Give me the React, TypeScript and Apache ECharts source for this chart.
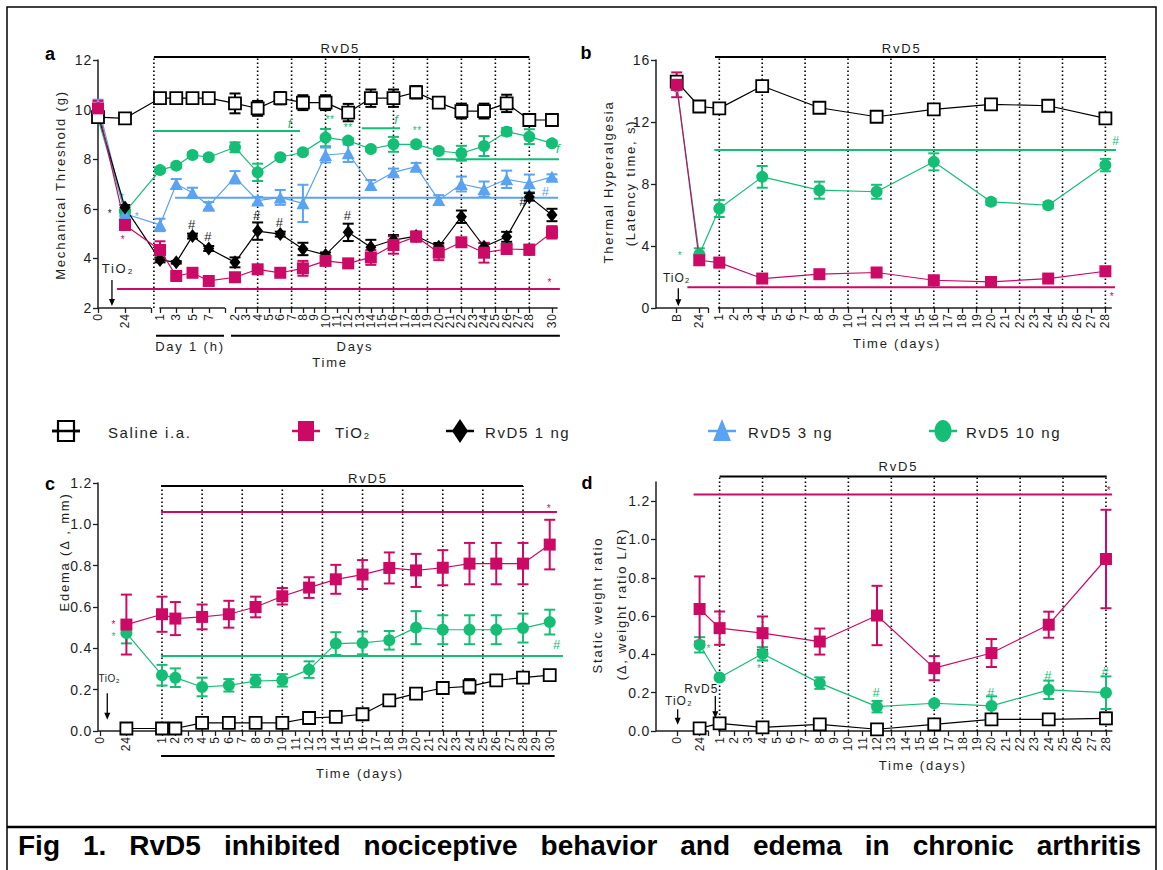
import React, { useEffect, useRef } from "react";
import * as echarts from "echarts";

const INK = "#1e1e1e";
const MAG = "#CC0A66";
const GRN = "#14BE75";
const BLU = "#5AA2F2";
const BLK = "#000000";
const FONT = "'Liberation Sans', Arial, Helvetica, sans-serif";

// ================= DATA =================
// Panel a — mechanical threshold (g); times: p = hours before/after TiO2, h = hours of day 1, d = days
const A_TIME = ["p:0", "p:24", "h:1", "h:3", "h:5", "h:7", "d:2", "d:4", "d:6", "d:8", "d:10", "d:12", "d:14", "d:16", "d:18", "d:20", "d:22", "d:24", "d:26", "d:28", "d:30"];
const A_SALINE = [9.7, 9.65, 10.46, 10.46, 10.46, 10.46, 10.25, 10.05, 10.46, 10.28, 10.28, 9.88, 10.46, 10.46, 10.7, 10.28, 9.94, 9.94, 10.25, 9.58, 9.58];
const A_SALINE_SEM = [0.2, 0.15, 0.1, 0.1, 0.1, 0.1, 0.4, 0.3, 0.25, 0.3, 0.3, 0.35, 0.35, 0.35, 0.25, 0.15, 0.3, 0.3, 0.35, 0.1, 0.1];
const A_TIO2 = [10.05, 5.35, 4.34, 3.29, 3.42, 3.09, 3.24, 3.56, 3.42, 3.6, 3.9, 3.8, 4.04, 4.54, 4.88, 4.23, 4.65, 4.23, 4.38, 4.35, 5.05];
const A_TIO2_SEM = [0.3, 0.2, 0.35, 0.1, 0.1, 0.1, 0.1, 0.1, 0.1, 0.3, 0.15, 0.15, 0.3, 0.35, 0.2, 0.3, 0.15, 0.4, 0.15, 0.2, 0.25];
const A_RV1 = [9.8, 6.05, 3.94, 3.84, 4.9, 4.4, 3.84, 5.1, 4.98, 4.38, 4.14, 5.05, 4.45, 4.74, 4.9, 4.47, 5.68, 4.47, 4.87, 6.48, 5.75];
const A_RV1_SEM = [0.1, 0.1, 0.1, 0.05, 0.1, 0.1, 0.2, 0.35, 0.1, 0.25, 0.1, 0.35, 0.3, 0.2, 0.15, 0.15, 0.25, 0.15, 0.2, 0.15, 0.25];
const A_RV3 = [10.2, 5.8, 5.35, 7.0, 6.65, 6.12, 7.27, 6.33, 6.46, 6.22, 8.17, 8.24, 6.96, 7.47, 7.7, 6.35, 7.0, 6.8, 7.19, 7.03, 7.29];
const A_RV3_SEM = [0.2, 0.1, 0.25, 0.2, 0.2, 0.15, 0.25, 0.15, 0.3, 0.75, 0.3, 0.35, 0.2, 0.15, 0.15, 0.2, 0.3, 0.3, 0.35, 0.35, 0.1];
const A_RV10 = [9.65, 5.87, 7.56, 7.74, 8.17, 8.08, 8.48, 7.47, 8.08, 8.28, 8.87, 8.75, 8.41, 8.6, 8.6, 8.33, 8.24, 8.53, 9.11, 8.91, 8.64];
const A_RV10_SEM = [0.15, 0.15, 0.1, 0.1, 0.1, 0.1, 0.2, 0.35, 0.1, 0.1, 0.35, 0.1, 0.1, 0.3, 0.1, 0.1, 0.3, 0.4, 0.15, 0.3, 0.1];
const A_PRE_TICKS = ["0", "24"];
const A_HOUR_TICKS = ["1", "3", "5", "7"];
const A_DAY_TICKS = ["2", "3", "4", "5", "6", "7", "8", "9", "10", "11", "12", "13", "14", "15", "16", "17", "18", "19", "20", "21", "22", "23", "24", "25", "26", "27", "28", "29", "30"];
const A_Y_TICKS = [2, 4, 6, 8, 10, 12];

// Panel b — thermal hyperalgesia (latency, s)
const B_TIME = ["p:0", "p:24", "d:1", "d:4", "d:8", "d:12", "d:16", "d:20", "d:24", "d:28"];
const B_SALINE = [14.6, 13.0, 12.88, 14.32, 12.92, 12.34, 12.82, 13.14, 13.05, 12.23];
const B_SALINE_SEM = [0.3, 0.2, 0.2, 0.2, 0.2, 0.2, 0.2, 0.2, 0.2, 0.2];
const B_TIO2 = [14.4, 3.08, 2.93, 1.9, 2.18, 2.29, 1.79, 1.68, 1.9, 2.37];
const B_TIO2_SEM = [0.8, 0.2, 0.3, 0.2, 0.2, 0.2, 0.2, 0.2, 0.2, 0.2];
const B_RV10 = [14.3, 3.45, 6.42, 8.46, 7.6, 7.5, 9.43, 6.85, 6.63, 9.22];
const B_RV10_SEM = [0.2, 0.4, 0.55, 0.7, 0.55, 0.45, 0.55, 0.2, 0.2, 0.4];
const B_PRE_TICKS = ["B", "24"];
const B_DAY_TICKS = ["1", "2", "3", "4", "5", "6", "7", "8", "9", "10", "11", "12", "13", "14", "15", "16", "17", "18", "19", "20", "21", "22", "23", "24", "25", "26", "27", "28"];
const B_Y_TICKS = [0, 4, 8, 12, 16];

// Panel c — edema (Δ, mm)
const C_TIME = ["p:24", "d:1", "d:2", "d:4", "d:6", "d:8", "d:10", "d:12", "d:14", "d:16", "d:18", "d:20", "d:22", "d:24", "d:26", "d:28", "d:30"];
const C_SALINE = [0.012, 0.012, 0.012, 0.039, 0.039, 0.039, 0.039, 0.063, 0.068, 0.081, 0.148, 0.181, 0.208, 0.216, 0.245, 0.258, 0.27];
const C_SALINE_SEM = [0.005, 0.005, 0.005, 0.005, 0.005, 0.005, 0.005, 0.005, 0.005, 0.008, 0.01, 0.015, 0.025, 0.035, 0.025, 0.02, 0.025];
const C_TIO2 = [0.515, 0.565, 0.544, 0.552, 0.565, 0.6, 0.652, 0.694, 0.734, 0.757, 0.789, 0.777, 0.79, 0.81, 0.81, 0.81, 0.902];
const C_TIO2_SEM = [0.145, 0.085, 0.08, 0.06, 0.065, 0.05, 0.04, 0.05, 0.07, 0.07, 0.075, 0.08, 0.085, 0.1, 0.1, 0.1, 0.12];
const C_RV10 = [0.474, 0.27, 0.258, 0.213, 0.221, 0.242, 0.245, 0.297, 0.423, 0.426, 0.439, 0.5, 0.49, 0.49, 0.49, 0.498, 0.527];
const C_RV10_SEM = [0.05, 0.05, 0.045, 0.045, 0.03, 0.03, 0.03, 0.04, 0.055, 0.055, 0.045, 0.08, 0.07, 0.07, 0.07, 0.07, 0.06];
const C_PRE_TICKS = ["0", "24"];
const C_DAY_TICKS = ["1", "2", "3", "4", "5", "6", "7", "8", "9", "10", "11", "12", "13", "14", "15", "16", "17", "18", "19", "20", "21", "22", "23", "24", "25", "26", "27", "28", "29", "30"];
const C_Y_TICKS = [0, 0.2, 0.4, 0.6, 0.8, 1.0, 1.2];

// Panel d — static weight ratio (Δ, L/R)
const D_TIME = ["p:24", "d:1", "d:4", "d:8", "d:12", "d:16", "d:20", "d:24", "d:28"];
const D_SALINE = [0.014, 0.04, 0.019, 0.035, 0.009, 0.035, 0.061, 0.061, 0.066];
const D_SALINE_SEM = [0.005, 0.02, 0.01, 0.005, 0.005, 0.005, 0.025, 0.01, 0.03];
const D_TIO2 = [0.637, 0.537, 0.511, 0.467, 0.603, 0.328, 0.407, 0.555, 0.898];
const D_TIO2_SEM = [0.17, 0.087, 0.087, 0.068, 0.155, 0.063, 0.073, 0.068, 0.257];
const D_RV10 = [0.45, 0.279, 0.403, 0.25, 0.127, 0.145, 0.131, 0.215, 0.2];
const D_RV10_SEM = [0.04, 0.01, 0.035, 0.03, 0.03, 0.01, 0.05, 0.048, 0.085];
const D_PRE_TICKS = ["0", "24"];
const D_DAY_TICKS = ["1", "2", "3", "4", "5", "6", "7", "8", "9", "10", "11", "12", "13", "14", "15", "16", "17", "18", "19", "20", "21", "22", "23", "24", "25", "26", "27", "28"];
const D_Y_TICKS = [0, 0.2, 0.4, 0.6, 0.8, 1.0, 1.2];

const PRE_HOURS = [0, 24];
const RVD5_DAYS = [1, 4, 7, 10, 13, 16, 19, 22, 25, 28];

const SERIES_NAMES = ["Saline i.a.", "TiO₂", "RvD5 1 ng", "RvD5 3 ng", "RvD5 10 ng"];
const CAPTION = "Fig 1. RvD5 inhibited nociceptive behavior and edema in chronic arthritis";

// ================= LAYOUT =================
const LAY_A = { left: 98, top: 60, width: 470, height: 248, pre0: 0, pre24: 27, h1: 62, hStep: 8.125, d0: 2, dPos: 137, dStep: 11.32 };
const LAY_B = { left: 656, top: 60, width: 465, height: 248, pre0: 20.7, pre24: 43.3, h1: 0, hStep: 0, d0: 1, dPos: 63.3, dStep: 14.3 };
const LAY_C = { left: 98, top: 483, width: 470, height: 248, pre0: 2, pre24: 28.4, h1: 0, hStep: 0, d0: 1, dPos: 64, dStep: 13.37 };
const LAY_D = { left: 656, top: 482, width: 465, height: 249, pre0: 21, pre24: 43.6, h1: 0, hStep: 0, d0: 1, dPos: 63.6, dStep: 14.31 };

const STYLE: Record<string, any> = {
  "Saline i.a.": { color: BLK, symbol: "rect", open: true },
  "TiO₂": { color: MAG, symbol: "rect" },
  "RvD5 1 ng": { color: BLK, symbol: "diamond" },
  "RvD5 3 ng": { color: BLU, symbol: "triangle" },
  "RvD5 10 ng": { color: GRN, symbol: "circle" },
};
const SYM_SIZE: Record<string, any> = {
  "Saline i.a.": 12,
  "TiO₂": 12,
  "RvD5 1 ng": [11, 14],
  "RvD5 3 ng": [13, 12],
  "RvD5 10 ng": 12,
};

function xu(L: any, key: string): number {
  const i = key.indexOf(":");
  const s = key.slice(0, i);
  const n = parseFloat(key.slice(i + 1));
  if (s === "p") return L.pre0 + (n * (L.pre24 - L.pre0)) / 24;
  if (s === "h") return L.h1 + (n - 1) * L.hStep;
  return L.dPos + (n - L.d0) * L.dStep;
}

// decoration helpers (annotation layout)
const hl = (x1: string, x2: string, y: number, color: string, w = 2, dy = 0) => ({ k: "h", x1, x2, y, color, w, dy });
const vd = (x: string, y1: number, y2: number, dy2 = 0) => ({ k: "v", x, y1, y2, dy2 });
const tx = (x: string, y: number, text: string, color: string, size: number, extra: any = {}) => ({ k: "t", x, y, text, color, size, dy: 0, ...extra });
const ar = (x: string, y1: number, y2: number) => ({ k: "a", x, y1, y2 });

const A_DECO = [
  hl("p:0", "p:47.1", 2, INK, 1.5),
  hl("h:0.92", "h:9", 2, INK, 1.5),
  hl("d:2", "d:30.5", 2, INK, 1.5),
  ...["h:0.25", ...RVD5_DAYS.slice(1).map((d) => "d:" + d)].map((x) => vd(x, 2, 12, -3)),
  hl("h:0.25", "d:28", 12, BLK, 2, -3),
  tx("d:11.3", 12, "RvD5", INK, 13, { dy: -12 }),
  hl("h:0.25", "d:7.74", 9.14, GRN, 2),
  tx("d:6.9", 9.45, "f", GRN, 13, { italic: true }),
  tx("d:10.4", 9.62, "**", GRN, 10),
  tx("d:12", 9.29, "**", GRN, 10),
  hl("d:13.22", "d:16.58", 9.25, GRN, 2),
  tx("d:16.3", 9.62, "f", GRN, 13, { italic: true }),
  tx("d:18.1", 9.15, "**", GRN, 10),
  hl("d:19.79", "d:30.62", 8.0, GRN, 2),
  tx("d:30.6", 8.45, "f", GRN, 13, { italic: true }),
  hl("h:2.85", "d:30.53", 6.45, BLU, 2),
  tx("d:29.5", 6.69, "#", BLU, 13),
  hl("p:16.9", "d:30.7", 2.77, MAG, 2),
  tx("d:29.8", 3.02, "*", MAG, 10),
  tx("h:5", 5.35, "#", INK, 13),
  tx("h:7", 4.88, "#", INK, 13),
  tx("d:4", 5.75, "#", INK, 13),
  tx("d:6", 5.43, "#", INK, 13),
  tx("d:12", 5.75, "#", INK, 13),
  tx("d:27.5", 6.29, "#", INK, 13),
  tx("p:10.7", 5.83, "*", INK, 10),
  tx("p:34.7", 5.67, "*", BLU, 10),
  tx("p:22.2", 4.78, "*", MAG, 10),
  tx("p:21.3", 6.44, "*", GRN, 10),
  tx("p:17.8", 3.61, "TiO₂", INK, 13),
  ar("p:12.4", 3.13, 2.08),
  hl("h:0.51", "h:8.88", 2, BLK, 2, 27.7),
  tx("h:4.69", 2, "Day 1 (h)", INK, 13, { dy: 38.7 }),
  hl("d:1.65", "d:30.7", 2, BLK, 2, 27.7),
  tx("d:12.6", 2, "Days", INK, 13, { dy: 38 }),
  tx("d:10.4", 2, "Time", INK, 13, { dy: 54.7 }),
];

const B_DECO = [
  hl("p:-22", "p:33.6", 0, INK, 1.5),
  hl("d:0.9", "d:28.45", 0, INK, 1.5),
  ...RVD5_DAYS.map((d) => vd("d:" + d, 0, 16, -3)),
  hl("d:0.7", "d:28.04", 16, BLK, 2, -3),
  tx("d:13.75", 16, "RvD5", INK, 13, { dy: -12 }),
  hl("d:0.65", "d:28.74", 10.19, GRN, 2),
  tx("d:28.74", 10.77, "#", GRN, 12),
  hl("p:11.3", "d:28.67", 1.34, MAG, 2),
  tx("d:28.46", 0.76, "*", MAG, 10),
  tx("p:3.5", 3.4, "*", GRN, 10),
  tx("p:0", 1.92, "TiO₂", INK, 12),
  ar("p:1.7", 1.27, 0.11),
  tx("d:13.43", 0, "Time (days)", INK, 13, { dy: 35.6 }),
];

const C_DECO = [
  hl("p:-1.8", "d:30.55", 0, INK, 1.5),
  ...RVD5_DAYS.map((d) => vd("d:" + d, 0, 1.2, 3)),
  hl("d:0.93", "d:28", 1.2, BLK, 2, 3),
  tx("d:16.4", 1.2, "RvD5", INK, 13, { dy: -4.4 }),
  hl("d:0.93", "d:30.54", 1.06, MAG, 2),
  tx("d:29.95", 1.078, "*", MAG, 10),
  hl("d:0.93", "d:30.99", 0.363, GRN, 2),
  tx("d:30.58", 0.42, "#", GRN, 13),
  tx("p:12.5", 0.516, "*", MAG, 10),
  tx("p:12.5", 0.458, "*", GRN, 10),
  tx("p:8.4", 0.255, "TiO₂", INK, 10),
  ar("p:6.6", 0.183, 0.055),
  hl("d:0.93", "d:30.37", 0, BLK, 2, 25),
  tx("d:15.8", 0, "Time (days)", INK, 13, { dy: 42 }),
];

const D_DECO = [
  hl("p:-22.3", "p:33.7", 0, INK, 1.5),
  hl("d:0.9", "d:28.45", 0, INK, 1.5),
  ...RVD5_DAYS.map((d) => vd("d:" + d, 0, 1.3, -5.6)),
  hl("d:1", "d:28.05", 1.3, BLK, 2, -5.6),
  tx("d:13.5", 1.3, "RvD5", INK, 13, { dy: -15.6 }),
  hl("p:17.6", "d:28.42", 1.235, MAG, 2),
  tx("d:28.2", 1.256, "*", MAG, 10),
  tx("d:12", 0.2, "#", GRN, 13),
  tx("d:20", 0.2, "#", GRN, 13),
  tx("d:24", 0.288, "#", GRN, 13),
  tx("d:28", 0.31, "#", GRN, 13),
  tx("p:33.6", 0.433, "*", GRN, 10),
  tx("d:3.77", 0.328, "*", GRN, 10),
  tx("p:1.9", 0.159, "TiO₂", INK, 12),
  ar("p:0.7", 0.114, 0.032),
  tx("p:25.8", 0.22, "RvD5", INK, 12),
  ar("d:0.7", 0.183, 0.066),
  tx("d:15.2", 0, "Time (days)", INK, 13, { dy: 34 }),
];

// ================= BUILDERS =================
function decoSeries(idx: number, L: any, deco: any[], ymin: number) {
  return {
    type: "custom",
    xAxisIndex: idx,
    yAxisIndex: idx,
    silent: true,
    clip: false,
    z: 2,
    data: [[0, ymin]],
    renderItem: (_p: any, api: any) => {
      const pt = (key: string, y: number, dy = 0) => {
        const c = api.coord([xu(L, key), y]);
        return [c[0], c[1] + dy];
      };
      const children = deco.map((d: any) => {
        if (d.k === "h") {
          const a = pt(d.x1, d.y, d.dy);
          const b = pt(d.x2, d.y, d.dy);
          return { type: "line", shape: { x1: a[0], y1: a[1], x2: b[0], y2: b[1] }, style: { stroke: d.color, lineWidth: d.w } };
        }
        if (d.k === "v") {
          const a = pt(d.x, d.y1);
          const b = pt(d.x, d.y2, d.dy2);
          return { type: "line", shape: { x1: a[0], y1: a[1], x2: b[0], y2: b[1] }, style: { stroke: BLK, lineWidth: 1.6, lineDash: [1.6, 2.4] } };
        }
        if (d.k === "t") {
          const a = pt(d.x, d.y, d.dy);
          return {
            type: "text",
            x: a[0],
            y: a[1],
            style: {
              text: d.text,
              fill: d.color,
              fontSize: d.size,
              fontFamily: FONT,
              fontStyle: d.italic ? "italic" : "normal",
              fontWeight: "normal",
              textAlign: "center",
              textVerticalAlign: "middle",
            },
          };
        }
        const a = pt(d.x, d.y1);
        const b = pt(d.x, d.y2);
        return {
          type: "group",
          children: [
            { type: "line", shape: { x1: a[0], y1: a[1], x2: b[0], y2: b[1] - 5 }, style: { stroke: BLK, lineWidth: 1.3 } },
            { type: "polygon", shape: { points: [[b[0] - 3, b[1] - 7], [b[0] + 3, b[1] - 7], [b[0], b[1]]] }, style: { fill: BLK } },
          ],
        };
      });
      return { type: "group", children };
    },
  };
}

function errSeries(idx: number, data: number[][], color: string) {
  return {
    type: "custom",
    xAxisIndex: idx,
    yAxisIndex: idx,
    silent: true,
    z: 4,
    data,
    encode: { x: 0, y: 1 },
    renderItem: (_p: any, api: any) => {
      const x = api.value(0);
      const y = api.value(1);
      const e = api.value(2);
      const hi = api.coord([x, y + e]);
      const lo = api.coord([x, y - e]);
      const st = { stroke: color, lineWidth: 2 };
      const cap = 5.5;
      return {
        type: "group",
        children: [
          { type: "line", shape: { x1: hi[0], y1: hi[1], x2: lo[0], y2: lo[1] }, style: st },
          { type: "line", shape: { x1: hi[0] - cap, y1: hi[1], x2: hi[0] + cap, y2: hi[1] }, style: st },
          { type: "line", shape: { x1: lo[0] - cap, y1: lo[1], x2: lo[0] + cap, y2: lo[1] }, style: st },
        ],
      };
    },
  };
}

function lineSeries(idx: number, name: string, data: number[][]) {
  const s = STYLE[name];
  return {
    type: "line",
    name,
    xAxisIndex: idx,
    yAxisIndex: idx,
    data,
    symbol: s.symbol,
    symbolSize: SYM_SIZE[name],
    showSymbol: true,
    silent: true,
    z: 5,
    lineStyle: { color: s.color, width: 1.2 },
    itemStyle: { color: s.open ? "#ffffff" : s.color, borderColor: s.color, borderWidth: s.open ? 1.8 : 0 },
    emphasis: { disabled: true },
  };
}

function buildPanel(idx: number, L: any, p: any) {
  const tickVals = p.tickKeys.map((k: string) => xu(L, k));
  const labelMap = new Map<string, string>();
  tickVals.forEach((v: number, i: number) => labelMap.set(v.toFixed(2), p.tickLabels[i]));
  const extra = p.extraTicks.map((k: string) => xu(L, k));
  const grid = { left: L.left, top: L.top, width: L.width, height: L.height };
  const xAxis = {
    type: "value",
    gridIndex: idx,
    min: 0,
    max: L.width,
    axisLine: { show: false },
    splitLine: { show: false },
    axisTick: { show: true, customValues: [...tickVals, ...extra], length: 5, lineStyle: { color: INK, width: 1.3 } },
    axisLabel: {
      customValues: tickVals,
      formatter: (v: number) => labelMap.get(Number(v).toFixed(2)) ?? "",
      rotate: 90,
      fontSize: 12,
      color: INK,
      fontFamily: FONT,
      margin: 5,
      showMinLabel: true,
      showMaxLabel: true,
      hideOverlap: false,
    },
  };
  const yAxis = {
    type: "value",
    gridIndex: idx,
    min: p.ymin,
    max: p.ymax,
    axisLine: { show: true, lineStyle: { color: INK, width: 1.5 } },
    axisTick: { show: true, customValues: p.yTicks, length: 5, lineStyle: { color: INK, width: 1.3 } },
    splitLine: { show: false },
    axisLabel: {
      customValues: p.yTicks,
      formatter: (v: number) => (p.yDec ? Number(v).toFixed(1) : String(Math.round(v))),
      fontSize: 14,
      color: INK,
      fontFamily: FONT,
      margin: 6,
      showMinLabel: true,
      showMaxLabel: true,
    },
  };
  const series: any[] = [decoSeries(idx, L, p.deco, p.ymin)];
  p.groups.forEach((g: any) => {
    const pts = p.times.map((t: string, i: number) => [xu(L, t), g.vals[i]]);
    const errs = p.times.map((t: string, i: number) => [xu(L, t), g.vals[i], g.sem[i]]);
    series.push(errSeries(idx, errs, STYLE[g.name].color));
    series.push(lineSeries(idx, g.name, pts));
  });
  return { grid, xAxis, yAxis, series };
}

function measureWords(words: string[], font: string): number[] {
  const c = document.createElement("canvas").getContext("2d");
  if (!c) return words.map((w) => w.length * 15);
  c.font = font;
  return words.map((w) => c.measureText(w).width);
}

function buildGraphic() {
  const els: any[] = [];
  // frame
  els.push({ type: "rect", shape: { x: 7, y: 7, width: 1149, height: 900 }, style: { fill: "none", stroke: BLK, lineWidth: 1.5 } });
  els.push({ type: "line", shape: { x1: 7, y1: 827, x2: 1156, y2: 827 }, style: { stroke: BLK, lineWidth: 2.5 } });
  // panel letters
  const letters: [string, number, number][] = [["a", 50, 54], ["b", 586, 53], ["c", 50, 484], ["d", 587, 483]];
  letters.forEach(([t, x, y]) =>
    els.push({ type: "text", x, y, style: { text: t, fontSize: 18, fontWeight: "bold", fontFamily: FONT, fill: BLK, textAlign: "center", textVerticalAlign: "middle" } })
  );
  // axis titles
  const ytitles: [string, number, number][] = [
    ["Mechanical Threshold (g)", 60, 185],
    ["Thermal Hyperalgesia", 608, 182],
    ["(Latency time, s)", 630, 183],
    ["Edema (Δ , mm)", 64, 552],
    ["Static weight ratio", 597, 605],
    ["(Δ, weight ratio L/R)", 621, 604],
  ];
  ytitles.forEach(([t, x, y]) =>
    els.push({ type: "text", x, y, rotation: Math.PI / 2, style: { text: t, fontSize: 13, fontFamily: FONT, fill: INK, textAlign: "center", textVerticalAlign: "middle" } })
  );
  // legend
  const LY = 431;
  const iconX = [66, 306, 460, 722, 943];
  const textX = [108, 335, 485, 748, 966];
  SERIES_NAMES.forEach((name, i) => {
    const s = STYLE[name];
    const cx = iconX[i];
    els.push({ type: "line", shape: { x1: cx - 14, y1: LY, x2: cx + 14, y2: LY }, style: { stroke: s.color, lineWidth: 2.5 } });
    if (s.symbol === "rect") {
      els.push({ type: "rect", shape: { x: cx - 8, y: LY - 10, width: 16, height: 20 }, style: s.open ? { fill: "#fff", stroke: BLK, lineWidth: 2.2 } : { fill: s.color } });
      if (s.open) els.push({ type: "line", shape: { x1: cx - 14, y1: LY, x2: cx + 14, y2: LY }, style: { stroke: BLK, lineWidth: 2.5 } });
    } else if (s.symbol === "diamond") {
      els.push({ type: "polygon", shape: { points: [[cx, LY - 12], [cx + 8, LY], [cx, LY + 12], [cx - 8, LY]] }, style: { fill: s.color } });
    } else if (s.symbol === "triangle") {
      els.push({ type: "polygon", shape: { points: [[cx, LY - 12], [cx + 9, LY + 10], [cx - 9, LY + 10]] }, style: { fill: s.color } });
    } else {
      els.push({ type: "ellipse", shape: { cx, cy: LY, rx: 8.5, ry: 11 }, style: { fill: s.color } });
    }
    els.push({ type: "text", x: textX[i], y: LY + 1, style: { text: name, fontSize: 15, fontFamily: FONT, fill: INK, textAlign: "left", textVerticalAlign: "middle" } });
  });
  // caption, justified
  const words = CAPTION.split(" ");
  const capFont = `bold 28px ${FONT}`;
  const widths = measureWords(words, capFont);
  const x0 = 18;
  const x1 = 1141;
  const gap = (x1 - x0 - widths.reduce((a, b) => a + b, 0)) / (words.length - 1);
  let cx = x0;
  words.forEach((w, i) => {
    els.push({ type: "text", x: cx, y: 845, style: { text: w, fontSize: 28, fontWeight: "bold", fontFamily: FONT, fill: BLK, textAlign: "left", textVerticalAlign: "middle" } });
    cx += widths[i] + gap;
  });
  return els;
}

function buildOption() {
  const pa = buildPanel(0, LAY_A, {
    times: A_TIME,
    groups: [
      { name: "RvD5 10 ng", vals: A_RV10, sem: A_RV10_SEM },
      { name: "RvD5 3 ng", vals: A_RV3, sem: A_RV3_SEM },
      { name: "RvD5 1 ng", vals: A_RV1, sem: A_RV1_SEM },
      { name: "Saline i.a.", vals: A_SALINE, sem: A_SALINE_SEM },
      { name: "TiO₂", vals: A_TIO2, sem: A_TIO2_SEM },
    ],
    tickKeys: [...PRE_HOURS.map((h) => "p:" + h), ...A_HOUR_TICKS.map((h) => "h:" + h), ...A_DAY_TICKS.map((d) => "d:" + d)],
    tickLabels: [...A_PRE_TICKS, ...A_HOUR_TICKS, ...A_DAY_TICKS],
    extraTicks: ["p:47.1", "h:9"],
    ymin: 2,
    ymax: 12,
    yTicks: A_Y_TICKS,
    yDec: false,
    deco: A_DECO,
  });
  const pb = buildPanel(1, LAY_B, {
    times: B_TIME,
    groups: [
      { name: "RvD5 10 ng", vals: B_RV10, sem: B_RV10_SEM },
      { name: "Saline i.a.", vals: B_SALINE, sem: B_SALINE_SEM },
      { name: "TiO₂", vals: B_TIO2, sem: B_TIO2_SEM },
    ],
    tickKeys: [...PRE_HOURS.map((h) => "p:" + h), ...B_DAY_TICKS.map((d) => "d:" + d)],
    tickLabels: [...B_PRE_TICKS, ...B_DAY_TICKS],
    extraTicks: ["p:33.6"],
    ymin: 0,
    ymax: 16,
    yTicks: B_Y_TICKS,
    yDec: false,
    deco: B_DECO,
  });
  const pc = buildPanel(2, LAY_C, {
    times: C_TIME,
    groups: [
      { name: "RvD5 10 ng", vals: C_RV10, sem: C_RV10_SEM },
      { name: "Saline i.a.", vals: C_SALINE, sem: C_SALINE_SEM },
      { name: "TiO₂", vals: C_TIO2, sem: C_TIO2_SEM },
    ],
    tickKeys: [...PRE_HOURS.map((h) => "p:" + h), ...C_DAY_TICKS.map((d) => "d:" + d)],
    tickLabels: [...C_PRE_TICKS, ...C_DAY_TICKS],
    extraTicks: [],
    ymin: 0,
    ymax: 1.2,
    yTicks: C_Y_TICKS,
    yDec: true,
    deco: C_DECO,
  });
  const pd = buildPanel(3, LAY_D, {
    times: D_TIME,
    groups: [
      { name: "RvD5 10 ng", vals: D_RV10, sem: D_RV10_SEM },
      { name: "Saline i.a.", vals: D_SALINE, sem: D_SALINE_SEM },
      { name: "TiO₂", vals: D_TIO2, sem: D_TIO2_SEM },
    ],
    tickKeys: [...PRE_HOURS.map((h) => "p:" + h), ...D_DAY_TICKS.map((d) => "d:" + d)],
    tickLabels: [...D_PRE_TICKS, ...D_DAY_TICKS],
    extraTicks: ["p:33.7"],
    ymin: 0,
    ymax: 1.3,
    yTicks: D_Y_TICKS,
    yDec: true,
    deco: D_DECO,
  });
  const ps = [pa, pb, pc, pd];
  return {
    animation: false,
    backgroundColor: "#ffffff",
    textStyle: { fontFamily: FONT },
    grid: ps.map((p) => p.grid),
    xAxis: ps.map((p) => p.xAxis),
    yAxis: ps.map((p) => p.yAxis),
    series: ps.flatMap((p) => p.series),
    graphic: { elements: buildGraphic() },
  };
}

function spaceOut(root: HTMLElement) {
  root.querySelectorAll("text").forEach((t) => {
    const cs = getComputedStyle(t);
    const fs = parseFloat(cs.fontSize);
    const fw = cs.fontWeight;
    if (fw === "bold" || parseInt(fw, 10) >= 600) return;
    let ls = 0.5;
    if (fs >= 15) ls = 1.6;
    else if (fs >= 14) ls = 0.8;
    else if (fs >= 13) ls = 1.8;
    else if (fs >= 12) ls = 1.0;
    t.setAttribute("letter-spacing", String(ls));
  });
}

export default function App() {
  const ref = useRef<HTMLDivElement>(null);
  useEffect(() => {
    const el = ref.current as HTMLDivElement;
    const chart = echarts.init(el, null, { renderer: "svg" });
    chart.setOption(buildOption() as any);
    spaceOut(el);
    const raf = requestAnimationFrame(() => spaceOut(el));
    return () => {
      cancelAnimationFrame(raf);
      chart.dispose();
    };
  }, []);
  return <div ref={ref} style={{ position: "fixed", left: 0, top: 0, width: 1163, height: 870, background: "#fff" }} />;
}
